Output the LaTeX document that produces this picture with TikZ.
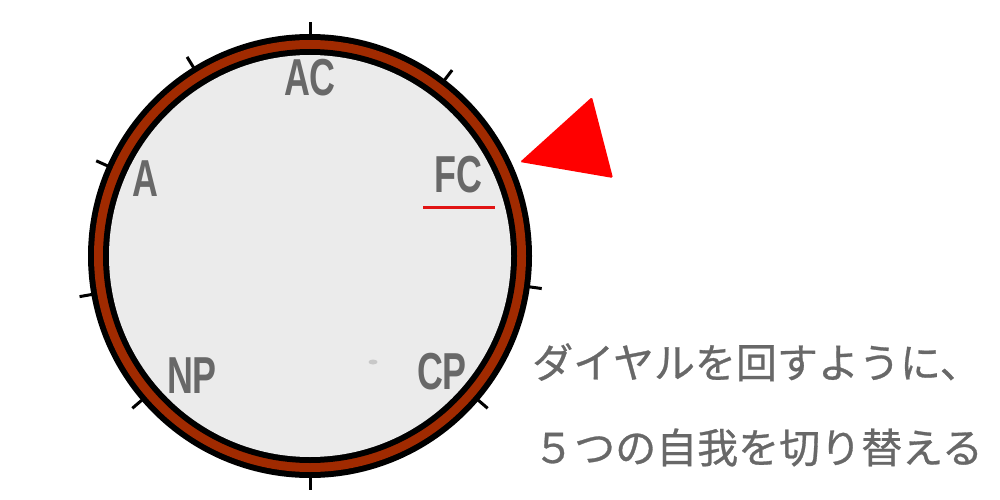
\documentclass[tikz,border=0pt]{standalone}
\usepackage{fontspec}
\setmainfont{Liberation Sans}
\newfontfamily\jp[FakeBold=0.7]{Noto Sans CJK JP}
\definecolor{dialbrown}{RGB}{160,42,0}
\definecolor{dialgrey}{RGB}{235,235,235}
\definecolor{labgrey}{RGB}{104,104,104}
\definecolor{pointer}{RGB}{255,0,0}
\definecolor{uline}{RGB}{225,20,20}
\definecolor{dotgrey}{RGB}{200,200,200}
\begin{document}
\begin{tikzpicture}[x=1pt,y=-1pt,
  lab/.style={inner sep=0pt, text=labgrey, font=\fontsize{52}{52}\selectfont\bfseries},
  jptext/.style={inner sep=0pt, anchor=base west, text=labgrey, font=\jp\fontsize{41}{41}\selectfont},
  tickline/.style={line width=3pt, black}]
\useasboundingbox[fill=white] (0,0) rectangle (1000,500);
% ticks
\foreach \a in {52.6,90,121.7,156,190,220.6,270,319.4,352}
  \draw[tickline] ({310+212*cos(\a)},{256-212*sin(\a)}) -- ({310+234*cos(\a)},{256-234*sin(\a)});
% dial
\fill[black] (310,256) circle (222);
\fill[dialbrown] (310,256) circle (216);
\fill[black] (310,256) circle (207);
\fill[dialgrey] (310,256) circle (201);
% labels
\node[lab] (ac) at (310,78) {\scalebox{0.69}[1]{AC}};
\node[lab] (a) at (145,179) {\scalebox{0.69}[1]{A}};
\node[lab] (fc) at (458,175) {\scalebox{0.69}[1]{FC}};
\node[lab] (np) at (192,376) {\scalebox{0.69}[1]{NP}};
\node[lab] (cp) at (442,372) {\scalebox{0.69}[1]{CP}};
\coordinate (ul1) at (423,207);
\coordinate (ul2) at (495,207);
\draw[uline, line width=3pt] (ul1) -- (ul2);
\fill[dotgrey] (373,362) ellipse (4.5 and 2.5);
% pointer
\fill[pointer, rounded corners=1.5pt] (520,162) -- (592,97) -- (613,178) -- cycle;
% text
\node[jptext] (t1) at (532,378) {ダイヤルを回すように、};
\node[jptext] (t2) at (533,463) {５つの自我を切り替える};
\end{tikzpicture}
\end{document}
